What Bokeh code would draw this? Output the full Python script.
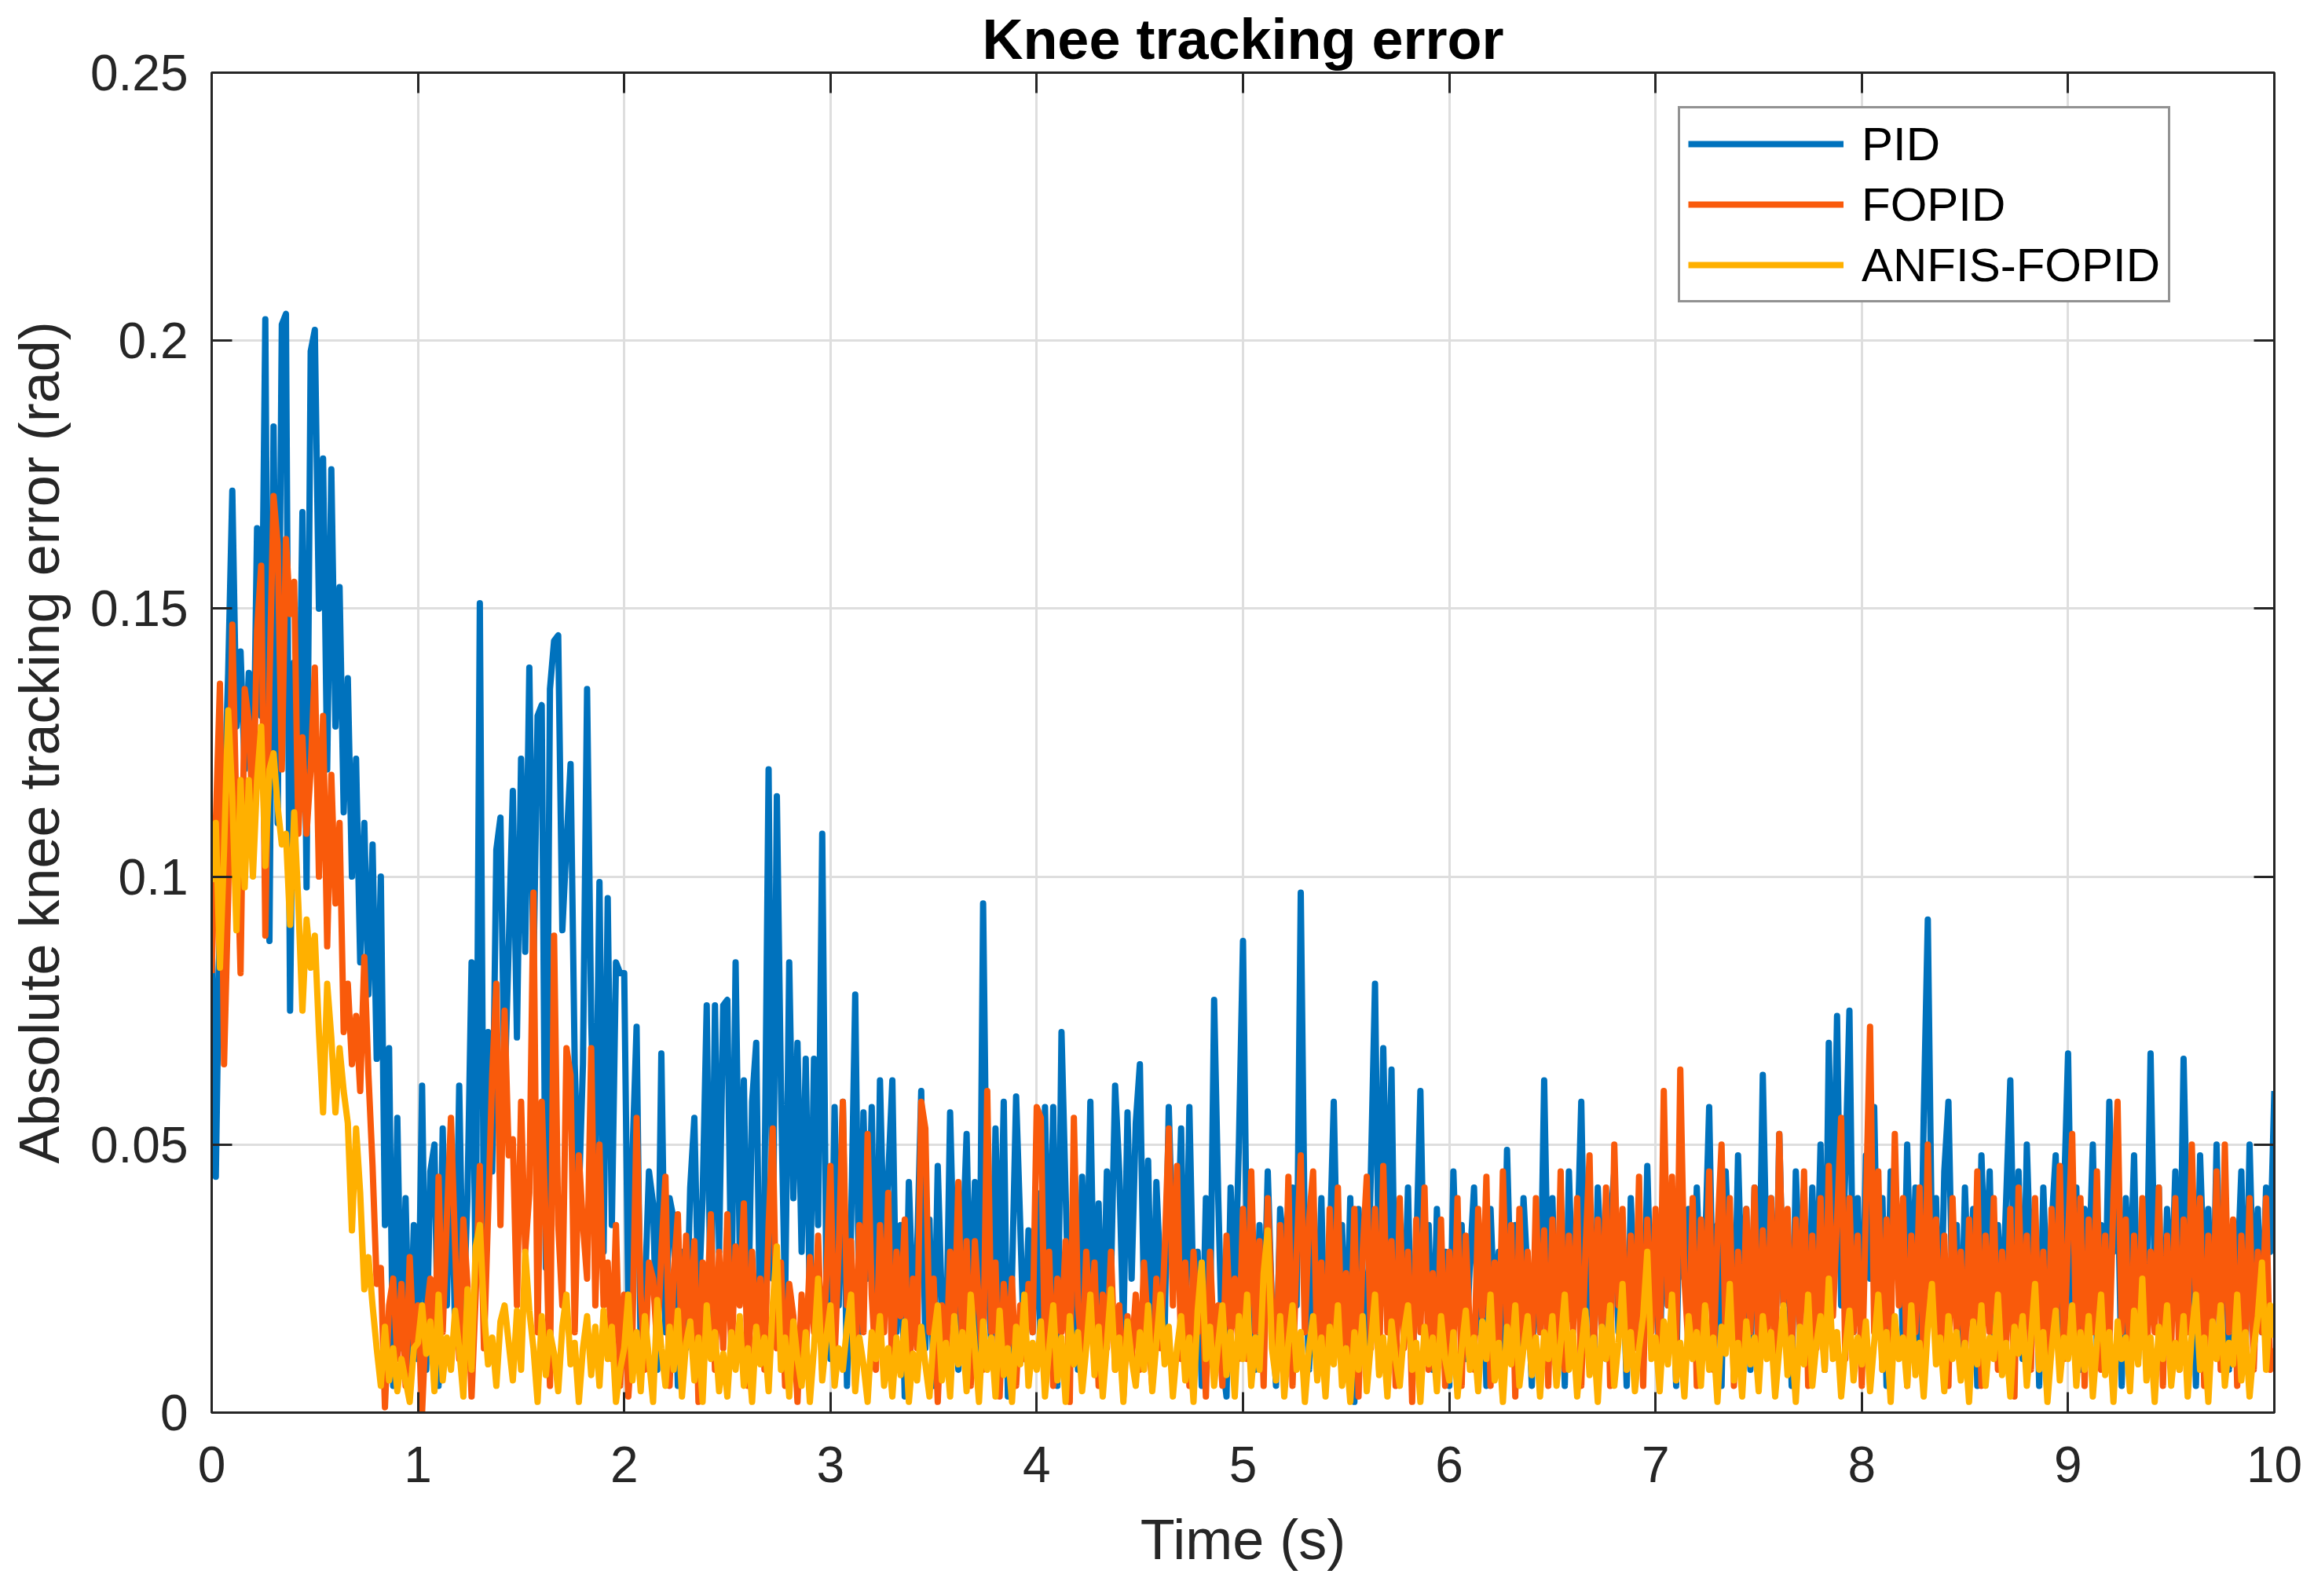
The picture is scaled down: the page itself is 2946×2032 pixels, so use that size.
from bokeh.plotting import figure
from bokeh.models import (Range1d, FixedTicker, LinearAxis, Legend, LegendItem,
                          CustomJSTickFormatter)
from bokeh.embed import file_html
from bokeh.resources import INLINE

# ---------------- data (absolute error, milliradians, one sample every 0.02 s) ----------------
sample_dt = 0.02

pid_mrad = [
    90,44,95,112,138,172,128,142,120,138,112,165,130,204,88,184,110,203,205,75,140,115,168,98,198,
    202,150,178,120,176,128,154,112,137,100,122,84,110,78,106,66,100,35,68,5,55,12,40,8,35,
    10,61,8,45,50,5,53,20,52,15,61,18,40,84,25,151,30,71,45,105,111,60,87,116,70,
    122,86,139,82,130,132,27,135,144,145,90,106,121,65,40,65,135,73,43,99,30,96,35,84,82,
    82,20,48,72,10,22,45,39,8,67,15,40,36,5,30,12,42,55,20,40,76,15,76,30,76,
    77,20,84,30,62,15,58,69,10,40,120,25,115,60,20,84,40,69,30,66,20,66,35,108,25,
    10,57,20,58,5,35,78,15,56,25,57,10,62,30,44,62,15,35,3,43,20,30,60,12,36,
    5,46,20,10,56,25,8,30,52,15,43,5,95,30,12,53,20,58,3,25,59,35,10,34,15,
    41,10,57,20,57,5,71,41,12,30,8,44,20,58,15,39,10,45,25,61,45,15,56,25,54,
    65,20,47,8,43,25,15,57,30,26,53,10,57,20,30,5,40,15,77,40,10,3,42,20,50,
    88,25,40,8,35,15,45,20,5,38,30,10,42,20,97,30,8,35,15,40,5,30,58,20,35,
    10,40,2,38,25,12,45,80,20,68,30,64,10,35,15,42,5,30,60,20,35,8,38,15,30,
    5,45,20,35,10,28,42,15,32,5,38,18,30,8,49,20,35,10,40,25,5,33,15,62,20,
    40,10,35,5,45,20,30,58,15,38,8,42,25,10,35,45,15,30,5,40,20,35,10,46,18,
    30,8,40,20,35,5,48,25,38,12,42,20,30,57,15,35,5,45,25,10,48,20,38,8,42,
    15,63,25,40,10,52,20,35,5,45,25,38,12,42,20,50,8,69,30,74,20,45,75,15,40,
    10,48,25,57,15,40,5,45,28,38,12,50,20,42,8,55,92,30,40,10,45,58,20,35,8,
    42,20,38,5,48,25,45,12,35,18,40,62,20,45,10,50,25,38,5,42,20,35,48,15,40,
    67,20,42,8,38,25,50,12,35,18,58,30,45,5,40,22,48,10,35,20,67,25,42,8,38,
    20,45,15,66,30,40,5,48,25,38,12,50,20,42,8,35,25,45,10,50,20,38,15,42,30,
    60,
]

fopid_mrad = [
    82,110,136,65,96,147,111,82,135,129,110,146,158,89,136,171,162,120,163,149,155,108,126,108,120,
    139,100,130,87,119,95,110,71,80,65,74,60,85,63,46,24,27,1,20,25,10,24,5,29,12,
    20,0,18,25,5,44,15,36,55,31,10,36,24,3,22,46,12,37,63,80,35,75,48,51,20,
    58,30,41,97,15,58,35,5,89,35,20,68,63,15,48,35,25,68,20,50,20,28,10,35,5,
    22,3,15,55,22,8,28,25,12,30,44,5,26,37,10,33,15,32,2,28,18,37,8,30,12,
    37,10,31,20,39,5,30,15,25,8,35,53,12,28,5,24,18,2,22,10,29,15,33,8,25,
    46,10,30,58,20,32,5,35,15,52,22,8,35,15,41,5,30,18,36,3,25,12,58,53,15,
    25,2,20,8,30,15,43,10,32,5,32,20,8,60,15,28,3,24,12,25,5,20,10,24,15,
    57,55,10,30,5,25,15,32,2,55,20,10,30,15,28,5,22,12,30,8,20,3,18,10,22,
    8,28,15,5,25,12,30,53,20,46,10,28,5,30,15,25,3,30,12,20,5,33,15,25,10,
    38,10,45,15,32,5,40,20,8,35,12,44,5,30,48,15,36,45,10,28,5,38,15,42,8,
    26,10,38,3,30,44,12,38,8,46,15,32,5,40,12,30,2,36,15,42,8,26,10,36,5,
    30,12,40,5,33,15,8,38,18,44,5,28,10,45,15,35,3,38,12,30,8,40,15,34,5,
    36,12,45,8,33,15,40,5,30,48,10,36,15,42,5,50,20,38,8,33,12,44,5,36,15,
    38,8,60,20,44,10,64,25,12,40,5,36,15,45,8,33,50,12,40,5,30,10,38,15,42,
    8,34,12,40,5,52,20,38,10,36,15,45,5,33,12,40,8,46,18,36,55,10,40,15,33,
    5,38,72,15,45,8,36,12,52,20,40,5,33,15,42,8,50,20,36,10,33,5,40,15,30,
    8,36,12,45,5,33,15,40,8,30,12,38,3,42,15,33,8,40,12,30,5,38,15,46,10,
    33,52,12,40,5,36,15,45,8,33,12,40,58,15,36,5,33,12,40,8,30,15,42,5,33,
    12,40,8,36,15,50,20,40,5,33,12,45,8,50,15,36,5,33,12,40,8,30,15,40,8,
    12,
]

anfis_mrad = [
    99,110,83,105,131,115,90,118,98,118,100,118,128,102,120,123,113,106,108,91,112,95,75,92,83,
    89,71,56,80,70,56,68,60,54,34,53,41,23,29,20,12,5,16,6,12,4,10,6,2,12,
    13,20,11,17,4,22,6,14,8,19,12,3,23,8,31,35,19,9,14,5,17,20,13,6,19,
    8,30,19,12,2,18,7,15,11,4,16,22,9,13,2,12,18,7,16,5,19,10,16,2,8,
    12,22,6,15,4,18,10,2,21,12,5,16,8,19,3,13,17,6,14,2,20,10,15,4,11,
    3,15,8,18,5,12,2,16,9,14,4,20,31,8,14,3,17,10,5,15,2,12,25,6,14,
    20,5,12,8,16,22,4,14,9,2,15,10,18,5,12,3,14,7,17,2,11,6,16,9,3,
    14,20,6,13,3,18,9,15,4,22,12,2,17,8,14,3,19,7,12,2,16,9,22,5,13,
    8,17,3,12,20,6,14,2,18,9,15,4,12,22,7,16,3,13,23,8,14,2,17,10,5,
    15,8,20,4,13,22,9,16,3,12,18,6,14,2,19,28,10,16,5,13,20,7,15,3,18,
    10,22,5,14,8,26,34,12,6,18,3,13,20,8,15,2,12,18,6,14,3,16,9,20,5,
    12,2,15,8,18,4,13,22,7,14,3,17,10,5,15,20,8,13,2,16,9,14,4,18,10,
    6,15,3,12,19,8,14,4,17,10,22,6,13,2,16,9,20,5,12,18,7,14,3,15,10,
    18,5,13,22,8,15,3,12,19,7,14,2,16,10,20,5,13,24,8,15,4,12,18,30,10,
    14,4,17,9,22,6,13,3,18,10,15,5,20,8,14,2,16,11,24,6,13,3,17,9,14,
    4,18,10,15,3,12,20,7,14,2,16,9,22,5,13,18,8,25,10,15,3,12,19,6,14,
    9,17,4,13,22,8,15,2,18,10,14,5,20,7,13,3,16,24,9,14,4,18,10,15,6,
    13,2,17,9,20,5,14,10,22,7,13,3,16,11,18,5,14,24,8,15,2,12,19,6,14,
    10,20,5,15,8,18,3,13,22,7,15,2,17,10,14,4,19,9,25,6,14,2,16,10,20,
    5,13,8,18,3,15,22,8,14,2,17,10,20,5,13,9,22,6,15,3,12,18,28,8,20,
    14,
]

series_names = ["PID", "FOPID", "ANFIS-FOPID"]
series_colors = ["#0072BD", "#F95A0B", "#FFB000"]

x_ticks = [0, 1, 2, 3, 4, 5, 6, 7, 8, 9, 10]
y_ticks = [0, 0.05, 0.1, 0.15, 0.2, 0.25]
y_tick_labels = ["0", "0.05", "0.1", "0.15", "0.2", "0.25"]

title_text = "Knee tracking error"
x_label = "Time (s)"
y_label = "Absolute knee tracking error (rad)"

# ---------------- build ----------------
t = [i * sample_dt for i in range(len(pid_mrad))]
series = [[v / 1000.0 for v in s] for s in (pid_mrad, fopid_mrad, anfis_mrad)]

FONT = "Liberation Sans"
AX = "#262626"

p = figure(width=2946, height=2032, output_backend="svg", toolbar_location=None,
           x_range=Range1d(0, 10), y_range=Range1d(0, 0.25),
           min_border_left=269, min_border_right=51, min_border_top=92, min_border_bottom=234,
           x_axis_label=x_label, y_axis_label=y_label, title=title_text)
p.background_fill_color = "white"
p.border_fill_color = "white"
p.outline_line_color = AX
p.outline_line_width = 3

p.title.align = "center"
p.title.text_font = FONT
p.title.text_font_style = "bold"
p.title.text_font_size = "72px"
p.title.text_color = "#000000"
p.title.standoff = 6

renderers = []
for ys, c in zip(series, series_colors):
    r = p.line(t, ys, line_color=c, line_width=8, line_join="round")
    renderers.append(r)

for ax in p.axis:
    ax.axis_line_color = AX
    ax.axis_line_width = 3
    ax.major_tick_in = 26
    ax.major_tick_out = 0
    ax.major_tick_line_color = AX
    ax.major_tick_line_width = 3
    ax.minor_tick_line_color = None
    ax.major_label_text_font = FONT
    ax.major_label_text_font_size = "64px"
    ax.major_label_text_color = AX
    ax.axis_label_text_font = FONT
    ax.axis_label_text_font_size = "72px"
    ax.axis_label_text_font_style = "normal"
    ax.axis_label_text_color = AX

p.xaxis.ticker = FixedTicker(ticks=x_ticks)
p.yaxis.ticker = FixedTicker(ticks=y_ticks)
p.yaxis.major_label_overrides = dict(zip(y_ticks, y_tick_labels))
p.xaxis.major_label_standoff = 43
p.yaxis.major_label_standoff = 30
p.xaxis.axis_label_standoff = 30
p.yaxis.axis_label_standoff = 22

for loc, ticks in (("above", x_ticks), ("right", y_ticks)):
    ax = LinearAxis(ticker=FixedTicker(ticks=ticks),
                    formatter=CustomJSTickFormatter(code="return ''"),
                    axis_line_color=AX, axis_line_width=3,
                    major_tick_in=26, major_tick_out=0,
                    major_tick_line_color=AX, major_tick_line_width=3,
                    minor_tick_line_color=None,
                    major_label_standoff=0, major_label_text_font_size="1px")
    p.add_layout(ax, loc)

p.xgrid.grid_line_color = "#dedede"
p.ygrid.grid_line_color = "#dedede"
p.xgrid.grid_line_width = 3
p.ygrid.grid_line_width = 3

legend = Legend(items=[LegendItem(label=n, renderers=[r]) for n, r in zip(series_names, renderers)],
                location=(1867, 1413), margin=0, padding=10, spacing=7,
                glyph_width=198, glyph_height=70, label_height=70, label_standoff=23,
                label_text_font=FONT, label_text_font_size="60px", label_text_color="#000000",
                border_line_color=AX, border_line_width=3,
                background_fill_color="white", background_fill_alpha=1.0)
p.add_layout(legend)

open("out.html", "w").write(file_html(p, INLINE))
